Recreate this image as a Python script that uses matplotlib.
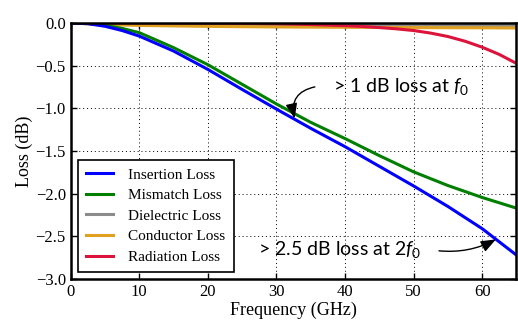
import numpy as np
import matplotlib.pyplot as plt

freq = [0, 2.5, 5, 7.5, 10, 15, 20, 25, 30, 35, 40, 45, 50, 55, 60, 65]
insertion = [0, -0.01, -0.04, -0.09, -0.155, -0.33, -0.545, -0.78, -1.01,
             -1.235, -1.45, -1.68, -1.91, -2.15, -2.41, -2.72]
mismatch = [0, -0.005, -0.03, -0.065, -0.115, -0.29, -0.49, -0.72, -0.95,
            -1.165, -1.355, -1.555, -1.745, -1.905, -2.045, -2.17]
dielectric = [0, -0.002, -0.004, -0.006, -0.008, -0.011, -0.014, -0.017, -0.02,
              -0.022, -0.024, -0.026, -0.028, -0.03, -0.032, -0.034]
conductor = [0, -0.012, -0.02, -0.025, -0.03, -0.036, -0.041, -0.045, -0.048,
             -0.05, -0.052, -0.054, -0.056, -0.057, -0.058, -0.06]

# radiation loss only shows up at the high end, so sample it finer there
freq_rad = [0, 10, 20, 30, 35, 40, 42.5, 45, 47.5, 50, 52.5, 55, 57.5, 60, 62.5, 65]
radiation = [0, 0, -0.002, -0.01, -0.02, -0.033, -0.042, -0.055, -0.07, -0.09,
             -0.12, -0.16, -0.215, -0.285, -0.37, -0.475]

labels = ['Insertion Loss', 'Mismatch Loss', 'Dielectric Loss',
          'Conductor Loss', 'Radiation Loss']
colors = ['#0000ff', '#007f00', '#8c8c8c', '#e0a020', '#dc143c']

plt.rcParams['font.family'] = 'Liberation Serif'
plt.rcParams['mathtext.fontset'] = 'custom'
plt.rcParams['mathtext.rm'] = 'Lato'
plt.rcParams['mathtext.it'] = 'Lato:italic'

fig = plt.figure(figsize=(5.18, 3.21), dpi=100)
ax = fig.add_axes([0.1365, 0.1308, 0.8605, 0.798])

xs = [freq, freq, freq, freq, freq_rad]
series = [insertion, mismatch, dielectric, conductor, radiation]
# draw small losses first so the big curves sit on top
for i in [2, 3, 4, 1, 0]:
    ax.plot(xs[i], series[i], color=colors[i], lw=2.2, label=labels[i])

ax.set_xlim(0, 65)
ax.set_ylim(-3.0, 0.0)
ax.set_xticks([0, 10, 20, 30, 40, 50, 60])
ax.set_yticks(np.arange(-3.0, 0.01, 0.5))
ax.grid(True, color='black', linestyle=(0, (1, 3)), lw=0.7)
ax.tick_params(direction='in', top=True, right=True, labelsize=12, length=4, width=1)
for s in ax.spines.values():
    s.set_linewidth(1.8)

ax.set_xlabel('Frequency (GHz)', fontsize=13, labelpad=1)
ax.set_ylabel('Loss (dB)', fontsize=13, labelpad=2)

handles, labs = ax.get_legend_handles_labels()
order = [labs.index(l) for l in labels]
leg = ax.legend([handles[k] for k in order], labels, loc='lower left',
                bbox_to_anchor=(0.0164, 0.026), borderaxespad=0, fontsize=11,
                fancybox=False, edgecolor='black', framealpha=1, handlelength=1.75,
                labelspacing=0.45, borderpad=0.55, handletextpad=1.0)
leg.get_frame().set_linewidth(1.2)

head = '-|>,head_length=0.9,head_width=0.35'
ax.text(38.3, -0.75, '> 1 dB loss at $f_0$', fontsize=14, family='Lato',
        va='center', ha='left')
ax.annotate('', xy=(32.65, -1.12), xytext=(35.6, -0.75),
            arrowprops=dict(arrowstyle=head, color='black', lw=1,
                            shrinkA=0, shrinkB=0,
                            connectionstyle='arc3,rad=0.5'))
ax.text(27.3, -2.66, '> 2.5 dB loss at 2$f_0$', fontsize=14, family='Lato',
        va='center', ha='left')
ax.annotate('', xy=(62.0, -2.536), xytext=(53.7, -2.67),
            arrowprops=dict(arrowstyle=head, color='black', lw=1,
                            shrinkA=0, shrinkB=0,
                            connectionstyle='arc3,rad=0.15'))

fig.savefig('out.png', dpi=100)
